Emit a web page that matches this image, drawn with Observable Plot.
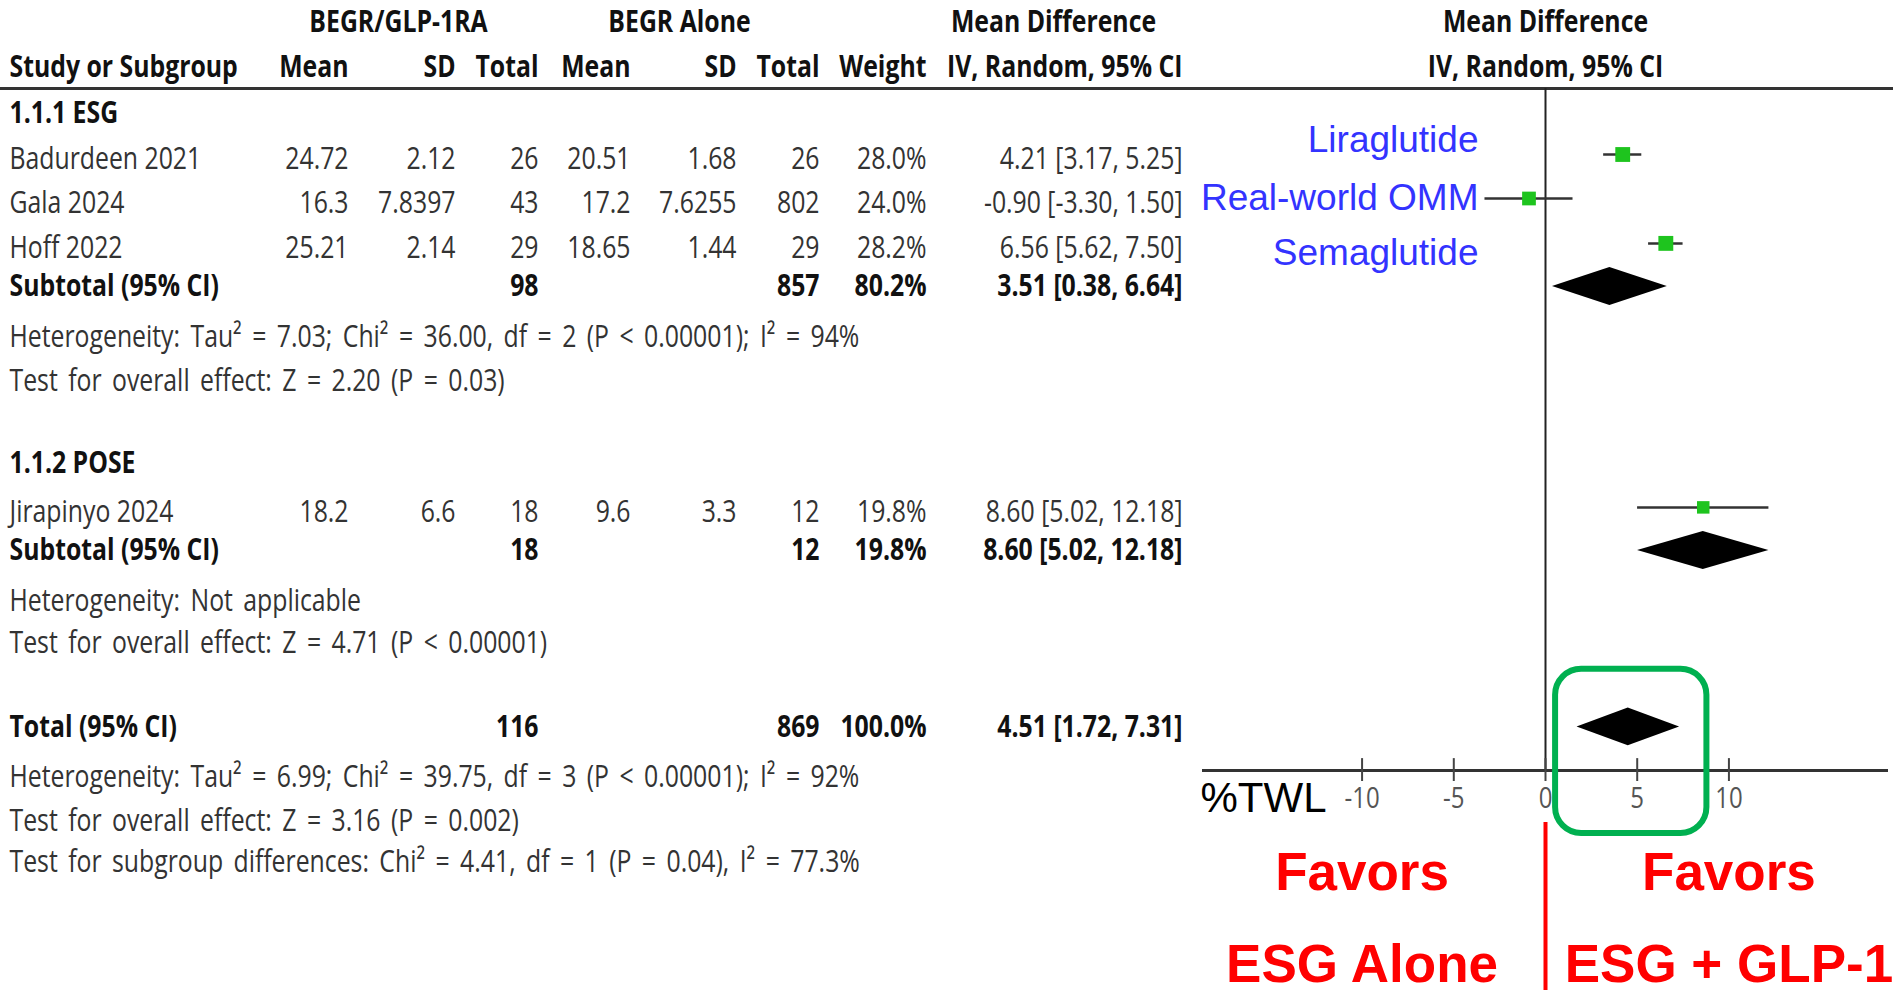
<!DOCTYPE html>
<html><head><meta charset="utf-8">
<script src="https://cdn.jsdelivr.net/npm/d3@7"></script>
<script src="https://cdn.jsdelivr.net/npm/@observablehq/plot@0.6"></script>
<style>
  html,body{margin:0;padding:0;background:#fff}
  #chart svg{display:block}
</style>
</head><body><div id="chart"></div>
<script>
// ---------------- data ----------------
const STUDY = ["Badurdeen 2021", "Gala 2024", "Hoff 2022", "Jirapinyo 2024"];
const STUDY_GROUP = [0, 0, 0, 1];
const EXP_MEAN = [24.72, 16.3, 25.21, 18.2];
const EXP_SD = [2.12, 7.8397, 2.14, 6.6];
const EXP_N = [26, 43, 29, 18];
const CTRL_MEAN = [20.51, 17.2, 18.65, 9.6];
const CTRL_SD = [1.68, 7.6255, 1.44, 3.3];
const CTRL_N = [26, 802, 29, 12];
const WEIGHT = [28.0, 24.0, 28.2, 19.8];
const MD = [4.21, -0.90, 6.56, 8.60];
const MD_LO = [3.17, -3.30, 5.62, 5.02];
const MD_HI = [5.25, 1.50, 7.50, 12.18];

const SUBGROUPS = ["1.1.1 ESG", "1.1.2 POSE"];
const SUB_EXP_N = [98, 18];
const SUB_CTRL_N = [857, 12];
const SUB_WEIGHT = [80.2, 19.8];
const SUB_MD = [3.51, 8.60];
const SUB_LO = [0.38, 5.02];
const SUB_HI = [6.64, 12.18];
const SUB_HET = [
  "Heterogeneity: Tau² = 7.03; Chi² = 36.00, df = 2 (P < 0.00001); I² = 94%",
  "Heterogeneity: Not applicable"
];
const SUB_TEST = [
  "Test for overall effect: Z = 2.20 (P = 0.03)",
  "Test for overall effect: Z = 4.71 (P < 0.00001)"
];

const TOTAL_LABEL = "Total (95% CI)";
const TOTAL_EXP_N = 116;
const TOTAL_CTRL_N = 869;
const TOTAL_WEIGHT = 100.0;
const TOTAL_MD = 4.51;
const TOTAL_LO = 1.72;
const TOTAL_HI = 7.31;
const TOTAL_NOTES = [
  "Heterogeneity: Tau² = 6.99; Chi² = 39.75, df = 3 (P < 0.00001); I² = 92%",
  "Test for overall effect: Z = 3.16 (P = 0.002)",
  "Test for subgroup differences: Chi² = 4.41, df = 1 (P = 0.04), I² = 77.3%"
];

const GROUP_HEADERS = ["BEGR/GLP-1RA", "BEGR Alone", "Mean Difference", "Mean Difference"];
const COLUMN_HEADERS = ["Study or Subgroup", "Mean", "SD", "Total", "Mean", "SD", "Total", "Weight", "IV, Random, 95% CI", "IV, Random, 95% CI"];
const DRUG_LABELS = ["Liraglutide", "Real-world OMM", "Semaglutide"];
const X_TICKS = [-10, -5, 0, 5, 10];
const AXIS_LABEL = "%TWL";
const FAVOR_LEFT = ["Favors", "ESG Alone"];
const FAVOR_RIGHT = ["Favors", "ESG + GLP-1"];

// ---------------- layout (row units / pixel columns) ----------------
const ROW = {
  h1: 0, h2: 1.02, line: 1.5,
  group: [2.05, 10.02],
  study: [3.0, 4.0, 5.02, 11.02],
  subtotal: [6.0, 12.0],
  het: [7.14, 13.14],
  test: [8.16, 14.11],
  total: 16.01,
  notes: [17.16, 18.14, 19.09],
  axis: 17.0, tickTop: 16.73, tickBottom: 17.25, tickLabel: 17.64,
  drug: [2.68, 4.0, 5.25],
  favor: [19.32, 21.42],
  redTop: 18.18, redBottom: 22,
  boxTop: 14.7, boxBottom: 18.43
};
const STUDY_TEXT_DY = 5;
const DIAMOND_HALF = 0.43;
const COL = {study: 9, em: 348, esd: 455, en: 538, cm: 630, csd: 736, cn: 819, w: 926, ci: 1182};
const GROUP_HEADER_X = [398, 679, 1053, 1545];
const COLUMN_HEADER_POS = [[9,"start"],[348,"end"],[455,"end"],[538,"end"],[630,"end"],[736,"end"],[819,"end"],[926,"end"],[1182,"end"],[1545,"middle"]];
const BOX = {x1: 0.55, x2: 8.8};

const TABLE_FONT = '"Open Sans","Noto Sans",sans-serif';
const ARIAL = '"Liberation Sans",Arial,Helvetica,sans-serif';
const TABLE_FS = 31;
const CONDENSE = 0.80;      // horizontal squeeze to mimic the condensed RevMan face
const NOTE_WORD_SPACING = 5; // wider word gaps in the footnote lines

// ---------------- build cells ----------------
const cells = [];
const cell = (row, x, anchor, text, bold = false, dy = 0, note = false) => cells.push({row, x, anchor, text: String(text), bold, dy, note});
const ci = (m, lo, hi) => `${m.toFixed(2)} [${lo.toFixed(2)}, ${hi.toFixed(2)}]`;

GROUP_HEADERS.forEach((t, i) => cell(ROW.h1, GROUP_HEADER_X[i], "middle", t, true));
COLUMN_HEADERS.forEach((t, i) => cell(ROW.h2, COLUMN_HEADER_POS[i][0], COLUMN_HEADER_POS[i][1], t, true));

SUBGROUPS.forEach((g, gi) => {
  cell(ROW.group[gi], COL.study, "start", g, true);
  STUDY.forEach((s, i) => {
    if (STUDY_GROUP[i] !== gi) return;
    const r = ROW.study[i];
    cell(r, COL.study, "start", s, false, STUDY_TEXT_DY);
    cell(r, COL.em, "end", EXP_MEAN[i], false, STUDY_TEXT_DY);
    cell(r, COL.esd, "end", EXP_SD[i], false, STUDY_TEXT_DY);
    cell(r, COL.en, "end", EXP_N[i], false, STUDY_TEXT_DY);
    cell(r, COL.cm, "end", CTRL_MEAN[i], false, STUDY_TEXT_DY);
    cell(r, COL.csd, "end", CTRL_SD[i], false, STUDY_TEXT_DY);
    cell(r, COL.cn, "end", CTRL_N[i], false, STUDY_TEXT_DY);
    cell(r, COL.w, "end", WEIGHT[i].toFixed(1) + "%", false, STUDY_TEXT_DY);
    cell(r, COL.ci, "end", ci(MD[i], MD_LO[i], MD_HI[i]), false, STUDY_TEXT_DY);
  });
  const r = ROW.subtotal[gi];
  cell(r, COL.study, "start", "Subtotal (95% CI)", true);
  cell(r, COL.en, "end", SUB_EXP_N[gi], true);
  cell(r, COL.cn, "end", SUB_CTRL_N[gi], true);
  cell(r, COL.w, "end", SUB_WEIGHT[gi].toFixed(1) + "%", true);
  cell(r, COL.ci, "end", ci(SUB_MD[gi], SUB_LO[gi], SUB_HI[gi]), true);
  cell(ROW.het[gi], COL.study, "start", SUB_HET[gi], false, 0, true);
  cell(ROW.test[gi], COL.study, "start", SUB_TEST[gi], false, 0, true);
});
cell(ROW.total, COL.study, "start", TOTAL_LABEL, true);
cell(ROW.total, COL.en, "end", TOTAL_EXP_N, true);
cell(ROW.total, COL.cn, "end", TOTAL_CTRL_N, true);
cell(ROW.total, COL.w, "end", TOTAL_WEIGHT.toFixed(1) + "%", true);
cell(ROW.total, COL.ci, "end", ci(TOTAL_MD, TOTAL_LO, TOTAL_HI), true);
TOTAL_NOTES.forEach((t, i) => cell(ROW.notes[i], COL.study, "start", t, false, 0, true));

const textGroups = d3.groups(cells, d => `${d.x}|${d.anchor}|${d.bold}|${d.dy}|${d.note}`);
const tableMarks = textGroups.map(([k, arr]) => {
  const {x, anchor, bold, dy, note} = arr[0];
  return Plot.text(arr, {
    y: "row", text: "text", frameAnchor: "left", dx: x, dy, textAnchor: anchor,
    lineAnchor: "middle", fontFamily: TABLE_FONT, fontSize: TABLE_FS,
    fontWeight: bold ? "bold" : "normal", fill: bold ? "#111" : "#333",
    title: note ? () => "note" : undefined
  });
});

// forest-plot records
const studyRecs = STUDY.map((s, i) => ({y: ROW.study[i], md: MD[i], lo: MD_LO[i], hi: MD_HI[i], w: WEIGHT[i]}));
const diamonds = [];
const pushDiamond = (id, y, m, lo, hi) => {
  diamonds.push({id, y: y - DIAMOND_HALF, x1: m, x2: m});
  diamonds.push({id, y, x1: lo, x2: hi});
  diamonds.push({id, y: y + DIAMOND_HALF, x1: m, x2: m});
};
SUBGROUPS.forEach((g, gi) => pushDiamond(g, ROW.subtotal[gi], SUB_MD[gi], SUB_LO[gi], SUB_HI[gi]));
pushDiamond("total", ROW.total, TOTAL_MD, TOTAL_LO, TOTAL_HI);

const chart = Plot.plot({
  width: 1893, height: 990, margin: 0,
  style: {background: "#fff", overflow: "visible"},
  x: {domain: [-18.7, 18.7], range: [1202, 1888], axis: null},
  y: {domain: [0, 22], range: [22, 990], axis: null},
  r: {domain: [0, 28.2], range: [0, 8.4]},
  marks: [
    Plot.ruleY([ROW.line], {stroke: "#333", strokeWidth: 3}),
    Plot.ruleX([0], {y1: ROW.line, y2: ROW.axis, stroke: "#222", strokeWidth: 2}),
    Plot.ruleY([ROW.axis], {x1: -18.7, x2: 18.7, stroke: "#333", strokeWidth: 3}),
    Plot.ruleX(X_TICKS, {x: d => d, y1: ROW.tickTop, y2: ROW.tickBottom, stroke: "#444", strokeWidth: 2}),
    Plot.text(X_TICKS, {x: d => d, y: ROW.tickLabel, text: d => String(d), fontFamily: TABLE_FONT, fontSize: 30, fill: "#555", lineAnchor: "middle"}),
    Plot.text([AXIS_LABEL], {frameAnchor: "left", dx: 1200, y: ROW.tickLabel, text: d => d, textAnchor: "start", fontFamily: ARIAL, fontSize: 42, fill: "#000", lineAnchor: "middle"}),
    Plot.ruleY(studyRecs, {y: "y", x1: "lo", x2: "hi", stroke: "#333", strokeWidth: 2.5}),
    Plot.dot(studyRecs, {x: "md", y: "y", r: "w", symbol: "square", fill: "#1ec41e", stroke: null}),
    Plot.areaX(diamonds, {y: "y", x1: "x1", x2: "x2", z: "id", fill: "#000", curve: "linear"}),
    ...tableMarks,
    Plot.text(DRUG_LABELS, {frameAnchor: "left", dx: 1478, y: (d, i) => ROW.drug[i], text: d => d, textAnchor: "end", fontFamily: ARIAL, fontSize: 37, fill: "#3333ff", lineAnchor: "middle"}),
    Plot.rect([BOX], {x1: "x1", x2: "x2", y1: ROW.boxTop, y2: ROW.boxBottom, rx: 26, fill: "none", stroke: "#00b050", strokeWidth: 6}),
    Plot.ruleX([0], {y1: ROW.redTop, y2: ROW.redBottom, stroke: "#ff0000", strokeWidth: 4}),
    Plot.text(FAVOR_LEFT, {x: -10, y: (d, i) => ROW.favor[i], text: d => d, fontFamily: ARIAL, fontWeight: "bold", fontSize: 53, fill: "#ff0000", lineAnchor: "middle"}),
    Plot.text(FAVOR_RIGHT, {x: 10, y: (d, i) => ROW.favor[i], text: d => d, fontFamily: ARIAL, fontWeight: "bold", fontSize: 53, fill: "#ff0000", lineAnchor: "middle"})
  ]
});

// condense the table / tick glyphs horizontally about their anchor points
const svg = d3.select(chart);
svg.selectAll("g").filter(function () {
  return (this.getAttribute("font-family") || "").startsWith('"Open Sans"');
}).selectAll("text").attr("transform", function () {
  return (this.getAttribute("transform") || "") + ` scale(${CONDENSE},1)`;
});
// footnote lines: wider word spacing, drop helper tooltips
svg.selectAll("text").filter(function () {
  const t = this.querySelector("title");
  return t && t.textContent === "note";
}).style("word-spacing", NOTE_WORD_SPACING + "px").each(function () {
  this.querySelector("title").remove();
});

document.getElementById("chart").appendChild(chart);
</script>
</body></html>
